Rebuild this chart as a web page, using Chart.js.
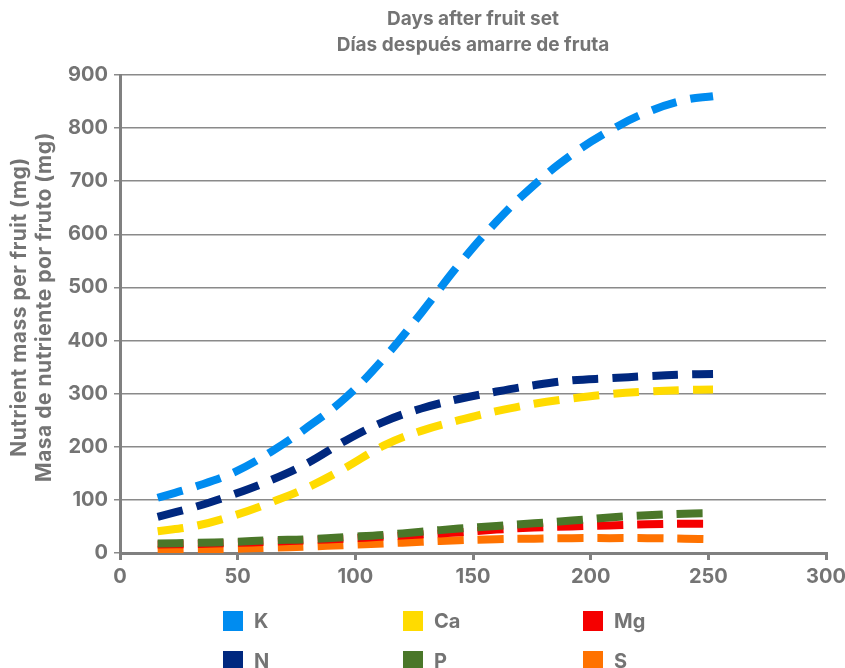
<!DOCTYPE html>
<html>
<head>
<meta charset="utf-8">
<script src="https://cdn.jsdelivr.net/npm/chart.js@4.4.1/dist/chart.umd.min.js"></script>
<style>
  html, body { margin: 0; padding: 0; background: #fff; }
</style>
</head>
<body>
<canvas id="myChart" width="845" height="668"></canvas>
<script>
// days after fruit set
var days = [16, 32, 48, 64, 80, 96, 112, 128, 144, 160, 176, 192, 208, 224, 240, 252];

// nutrient mass per fruit (mg)
var kMass  = [104, 125, 151, 190, 238, 293, 366, 452, 543, 624, 693, 750, 795, 830, 853, 860];
var caMass = [41, 51, 70, 95, 124, 161, 202, 230, 250, 267, 281, 291, 299, 304, 307, 308];
var mgMass = [16, 17, 19, 21, 24, 27, 31, 35, 39, 44, 48, 50, 52, 54, 55, 55];
var nMass  = [68, 87, 110, 137, 170, 212, 247, 272, 290, 304, 316, 325, 329, 333, 336, 337];
var pMass  = [18, 19, 21, 24, 26, 30, 34, 40, 46, 51, 56, 61, 67, 71, 74, 75];
var sMass  = [6, 7, 8, 10, 12, 15, 18, 21, 24, 26, 27, 28, 28, 28, 27, 26];

var xTicks = [0, 50, 100, 150, 200, 250, 300];
var yTicks = [0, 100, 200, 300, 400, 500, 600, 700, 800, 900];

var tituloX = ['Days after fruit set', 'Días después amarre de fruta'];
var tituloY = ['Nutrient mass per fruit (mg)', 'Masa de nutriente por fruto (mg)'];

var gris = '#747474';
var fuente = 'Inter, "Liberation Sans", Arial, sans-serif';

function serie(label, valores, color, orden) {
  return {
    label: label,
    data: days.map(function (d, i) { return { x: d, y: valores[i] }; }),
    borderColor: color,
    backgroundColor: color,
    borderWidth: 8,
    borderDash: [26, 14],
    borderCapStyle: 'butt',
    pointRadius: 0,
    tension: 0.4,
    fill: false,
    order: orden
  };
}

var datos = {
  datasets: [
    serie('K', kMass, '#008cf0', 0),
    serie('Ca', caMass, '#ffdb00', 0),
    serie('Mg', mgMass, '#f50000', 2),
    serie('N', nMass, '#00287f', 0),
    serie('P', pMass, '#4a7729', 1),
    serie('S', sMass, '#ff7200', 3)
  ]
};

// legend in 3 columns x 2 rows
var leyendaRejilla = {
  id: 'leyendaRejilla',
  afterDraw: function (chart) {
    var ctx = chart.ctx;
    var cols = [223, 403, 583];
    var filas = [611, 651];
    ctx.save();
    chart.data.datasets.forEach(function (ds, i) {
      var x = cols[i % 3], y = filas[Math.floor(i / 3)];
      ctx.fillStyle = ds.borderColor;
      ctx.fillRect(x, y, 20, 20);
      ctx.fillStyle = gris;
      ctx.font = 'bold 20px ' + fuente;
      ctx.textBaseline = 'middle';
      ctx.textAlign = 'left';
      ctx.fillText(ds.label, x + 31, y + 11);
    });
    ctx.restore();
  }
};

// titles: top one centred over the plot, y title on two rotated lines
var titulos = {
  id: 'titulos',
  afterDraw: function (chart) {
    var ctx = chart.ctx, a = chart.chartArea;
    var cx = (a.left + a.right) / 2;
    ctx.save();
    ctx.fillStyle = gris;
    ctx.textAlign = 'center';
    ctx.textBaseline = 'middle';
    ctx.font = 'bold 19px ' + fuente;
    ctx.fillText(tituloX[0], cx, 19);
    ctx.fillText(tituloX[1], cx, 45);
    ctx.translate(20, 307);
    ctx.rotate(-Math.PI / 2);
    ctx.letterSpacing = '0.5px';
    ctx.font = 'bold 21px ' + fuente;
    ctx.fillText(tituloY[0], 0, 0);
    ctx.fillText(tituloY[1], 0, 25);
    ctx.restore();
  }
};

var config = {
  type: 'line',
  data: datos,
  options: {
    responsive: false,
    animation: false,
    layout: { padding: { left: 0, right: 19, top: 75, bottom: 0 } },
    plugins: {
      legend: { display: false },
      tooltip: { enabled: false },
      title: { display: false }
    },
    scales: {
      x: {
        type: 'linear',
        min: 0,
        max: 300,
        afterBuildTicks: function (s) { s.ticks = xTicks.map(function (v) { return { value: v }; }); },
        afterFit: function (s) { s.height = 115; s.paddingLeft = 0; s.paddingRight = 0; },
        ticks: { color: gris, padding: 5, font: { family: fuente, size: 20, weight: 'bold' } },
        grid: { drawOnChartArea: false, drawTicks: true, tickLength: 7, color: '#808080', lineWidth: 3 },
        border: { display: true, width: 3, color: '#808080' }
      },
      y: {
        min: 0,
        max: 900,
        afterBuildTicks: function (s) { s.ticks = yTicks.map(function (v) { return { value: v }; }); },
        afterFit: function (s) { s.width = 120; s.paddingTop = 0; s.paddingBottom = 0; },
        ticks: { color: gris, padding: 6, font: { family: fuente, size: 20, weight: 'bold' } },
        grid: { color: '#8a8a8a', lineWidth: 1.5, tickLength: 6 },
        border: { display: true, width: 3, color: '#808080' }
      }
    }
  },
  plugins: [leyendaRejilla, titulos]
};

var g_principal = document.getElementById('myChart');
var miGrafica = new Chart(g_principal, config);
</script>
</body>
</html>
